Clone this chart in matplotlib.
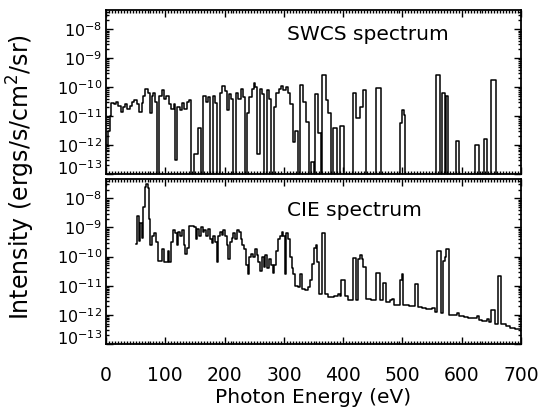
import numpy as np
import matplotlib
matplotlib.use('Agg')
import matplotlib.pyplot as plt
from matplotlib.transforms import ScaledTranslation
from matplotlib.ticker import FixedLocator, MultipleLocator, LogLocator, NullFormatter

# ---- data (step spectra: energy where each step starts, log10 intensity) ----
swcs_energy = [0, 3, 6, 9, 13, 17, 21, 25, 28, 32, 36, 40, 44, 48, 52, 56, 60, 63, 66, 70,
               74, 77, 80, 83, 86, 90, 94, 98, 102, 106, 110, 114, 117, 120, 124, 128, 132, 136, 140, 144,
               149, 155, 161, 164, 168, 172, 176, 180, 184, 188, 192, 196, 200, 204, 207, 211, 215, 219, 223, 227,
               231, 235, 238, 242, 246, 249, 252, 255, 259, 263, 267, 271, 275, 279, 283, 287, 291, 295, 299, 303,
               307, 311, 315, 319, 323, 327, 333, 338, 342, 345, 350, 352, 358, 362, 364, 371, 375, 379, 383, 389,
               395, 401, 417, 422, 428, 433, 438, 456, 463, 496, 500, 502, 505, 557, 563, 567, 572, 573, 577, 590,
               596, 623, 629, 638, 643, 650, 657, 700]
swcs_log = [-12.0, -11.5, -11.0, -10.55, -10.6, -10.5, -10.65, -10.85, -10.7, -10.6, -10.75, -10.65, -10.5, -10.45, -10.6, -10.85, -10.55, -10.3, -10.05, -10.2,
            -10.9, -10.3, -10.2, -10.5, -14, -10.3, -10.1, -10.4, -10.3, -10.6, -10.75, -10.6, -12.5, -10.7, -10.8, -10.55, -10.75, -10.5, -10.45, -14,
            -12.3, -11.4, -14, -10.3, -10.5, -10.35, -14, -10.3, -10.55, -14, -10.2, -9.95, -10.15, -10.8, -10.25, -10.4, -14, -10.2, -10.4, -10.05,
            -10.35, -14, -10.9, -10.35, -10.05, -9.85, -10.0, -12.3, -10.05, -10.25, -14, -10.1, -10.4, -14, -10.7, -10.2, -10.05, -9.95, -10.1, -10.0,
            -10.2, -10.6, -11.9, -11.5, -14, -9.92, -10.5, -11.2, -14, -12.6, -14, -10.25, -11.6, -14, -9.58, -10.45, -10.9, -14, -11.4, -14,
            -11.35, -14, -10.2, -11.05, -10.7, -10.1, -14, -10.03, -14, -11.25, -10.8, -10.95, -14, -9.58, -14, -10.2, -14, -10.3, -14, -11.85,
            -14, -12.0, -14, -11.8, -14, -9.75, -14, -14]

cie_energy = [50, 51.5, 55, 57, 60, 63, 65, 67, 70, 73, 75, 78, 81, 84, 87, 91, 94, 97, 101, 104,
              107, 110, 113, 116, 119, 122, 125, 128, 131, 134, 137, 140, 144, 148, 151, 154, 157, 160, 163, 166,
              169, 172, 175, 178, 181, 184, 187, 189, 192, 195, 198, 201, 204, 206, 209, 212, 215, 218, 221, 224,
              227, 230, 233, 236, 239, 242, 245, 248, 251, 254, 257, 260, 263, 266, 269, 272, 275, 278, 281, 284,
              287, 290, 293, 296, 299, 302, 304, 307, 310, 313, 316, 319, 323, 327, 331, 336, 340, 344, 347, 350,
              354, 356, 359, 364, 370, 374, 384, 391, 395, 397, 403, 409, 417, 422, 425, 428, 431, 434, 438, 447,
              456, 462, 468, 473, 479, 482, 486, 496, 499, 501, 511, 521, 526, 533, 540, 549, 555, 559, 565, 568,
              571, 574, 578, 585, 592, 596, 603, 610, 618, 625, 629, 635, 640, 642, 646, 650, 656, 662, 667, 675,
              682, 690, 700]
cie_log = [-9.57, -8.6, -9.45, -8.85, -9.35, -8.3, -7.6, -7.5, -7.65, -8.7, -9.6, -9.3, -9.2, -9.5, -10.15, -10.15, -9.75, -10.2, -10.2, -9.8,
           -10.2, -9.5, -9.1, -9.2, -9.6, -9.15, -9.3, -9.1, -9.6, -9.9, -9.7, -8.95, -8.95, -9.0, -9.4, -9.05, -9.3, -9.0, -9.15, -9.1,
           -9.3, -9.05, -9.4, -9.55, -9.3, -9.5, -10.2, -9.3, -9.15, -9.25, -9.1, -9.3, -9.6, -10.1, -9.5, -9.35, -9.2, -9.4, -9.1, -9.15,
           -9.4, -9.6, -9.75, -10.3, -10.6, -10.0, -9.9, -10.0, -9.75, -9.95, -10.2, -10.5, -10.0, -10.35, -9.95, -10.4, -10.1, -10.3, -10.55, -10.3,
           -9.8, -9.4, -9.3, -9.15, -9.3, -10.6, -9.2, -9.4, -10.0, -10.4, -10.6, -11.0, -11.05, -10.6, -11.1, -11.15, -11.05, -10.8, -10.25, -9.7,
           -9.6, -10.2, -11.3, -9.2, -11.3, -11.4, -11.35, -11.3, -11.35, -10.8, -11.35, -11.5, -10.05, -11.5, -10.1, -9.95, -10.1, -10.35, -11.45, -11.5,
           -10.55, -11.5, -10.9, -11.55, -11.5, -11.45, -11.65, -10.8, -10.6, -11.65, -11.68, -10.95, -11.72, -11.76, -11.8, -11.78, -11.9, -9.8, -11.95, -10.15,
           -10.0, -9.75, -12.0, -12.02, -11.95, -12.05, -12.08, -12.1, -12.12, -12.05, -12.18, -12.2, -12.22, -12.15, -12.25, -11.85, -12.3, -10.65, -12.33, -12.38,
           -12.44, -12.5, -12.55]

ytick_exps = [-8, -9, -10, -11, -12, -13]
xtick_values = [0, 100, 200, 300, 400, 500, 600, 700]

fig = plt.figure(figsize=(5.42, 4.07), dpi=100)
ax1 = fig.add_axes([0.1956, 0.5725, 0.7657, 0.4029])
ax2 = fig.add_axes([0.1956, 0.1548, 0.7657, 0.4054])

panels = [(ax1, swcs_energy, swcs_log, 'SWCS spectrum', 0.848),
          (ax2, cie_energy, cie_log, 'CIE spectrum', 0.81)]

for ax, en, lg, title, ty in panels:
    ax.step(en, 10.0 ** np.array(lg), where='post', color='black', lw=1.1)
    ax.set_yscale('log')
    ax.set_ylim(1.0e-13, 4.6e-8)
    ax.set_xlim(0, 700)
    ax.yaxis.set_major_locator(FixedLocator([10.0 ** k for k in ytick_exps]))
    ax.set_yticklabels([r'$10^{%d}$' % k for k in ytick_exps])
    ax.yaxis.set_minor_locator(LogLocator(base=10, subs=np.arange(2, 10), numticks=20))
    ax.yaxis.set_minor_formatter(NullFormatter())
    ax.xaxis.set_major_locator(FixedLocator(xtick_values))
    ax.xaxis.set_minor_locator(MultipleLocator(5))
    ax.tick_params(which='both', direction='in', top=True, right=True, width=1.0)
    ax.tick_params(which='major', length=5)
    ax.tick_params(which='minor', length=2.2)
    ax.tick_params(axis='y', labelsize=11.5, pad=3)
    ax.tick_params(axis='x', labelsize=13.5, pad=16)
    for s in ax.spines.values():
        s.set_linewidth(1.3)
    ax.text(0.436, ty, title, transform=ax.transAxes, fontsize=14.5, va='center', ha='left')
    for tick in ax.yaxis.get_major_ticks():
        if abs(np.log10(tick.get_loc()) + 13) < 0.01:
            lab = tick.label1
            lab.set_transform(lab.get_transform() + ScaledTranslation(0, 7 / 100, fig.dpi_scale_trans))

ax1.tick_params(axis='x', labelbottom=False)
ax2.set_xticklabels([str(v) for v in xtick_values])

ax2.set_xlabel('Photon Energy (eV)', fontsize=14.5, labelpad=2)
fig.text(0.038, 0.565, r'Intensity (ergs/s/cm$^2$/sr)', rotation=90, fontsize=17,
         ha='center', va='center')

fig.savefig('out.png', dpi=100)
